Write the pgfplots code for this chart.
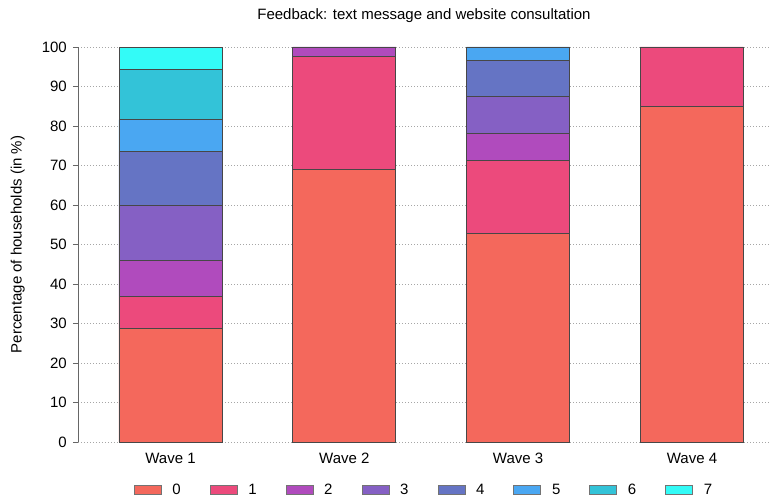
\documentclass[border=0pt]{standalone}
\usepackage{fontspec}
\setmainfont{Liberation Sans}
\usepackage{pgfplots}
\pgfplotsset{compat=1.18}
\definecolor{c0}{HTML}{F4685C}
\definecolor{c1}{HTML}{EC4A7C}
\definecolor{c2}{HTML}{B04BBD}
\definecolor{c3}{HTML}{8560C4}
\definecolor{c4}{HTML}{6574C4}
\definecolor{c5}{HTML}{4AA7F2}
\definecolor{c6}{HTML}{33C3D8}
\definecolor{c7}{HTML}{33FBF7}
\begin{document}
\fontsize{15bp}{17bp}\selectfont
\begin{tikzpicture}
\begin{axis}[
  scale only axis,
  width=692bp, height=395bp,
  ybar stacked,
  bar width=103bp,
  xmin=-0.532, xmax=3.449,
  ymin=0, ymax=100,
  xtick={0,1,2,3},
  xticklabels={Wave 1,Wave 2,Wave 3,Wave 4},
  ytick={0,10,...,100},
  axis y line*=left,
  axis x line*=bottom,
  x axis line style={draw=none},
  y axis line style={draw=black!60, line width=0.7bp},
  xtick style={draw=none},
  ytick style={draw=black!60, line width=0.7bp},
  tick align=outside,
  major tick length=5bp,
  yticklabel style={xshift=-1bp},
  xticklabel style={yshift=-1bp},
  ymajorgrids,
  grid style={dash pattern=on 0.8bp off 2.2bp, black!35, line width=0.7bp},
  /pgf/number format/assume math mode=true,
  tick label style={font=\fontsize{15bp}{17bp}\selectfont},
  title={Feedback: text message and website consultation},
  title style={at={(0.5,1)}, anchor=center, yshift=25bp, font=\fontsize{15bp}{17bp}\selectfont},
  ylabel={Percentage of households (in \%)},
  ylabel style={at={(axis description cs:-0.087,0.5)}, anchor=center, rotate=0, font=\fontsize{15bp}{17bp}\selectfont},
  every axis plot/.append style={draw=black!72, line width=0.9bp},
  legend columns=-1,
  legend style={at={(0.5,0)}, anchor=center, yshift=-48bp, draw=none,
    font=\fontsize{15bp}{17bp}\selectfont,
    /tikz/every odd column/.append style={column sep=9bp},
    /tikz/every even column/.append style={column sep=27bp}},
  legend image code/.code={\draw[#1, draw=black!55, line width=0.6bp] (0bp,-4.5bp) rectangle (27bp,4.5bp);},
]
\addplot[fill=c0] coordinates {(0,28.7) (1,69.0) (2,52.9) (3,85.0)};
\addplot[fill=c1] coordinates {(0,8.1) (1,28.7) (2,18.4) (3,15.0)};
\addplot[fill=c2] coordinates {(0,9.2) (1,2.3) (2,6.8) (3,0)};
\addplot[fill=c3] coordinates {(0,13.8) (1,0) (2,9.3) (3,0)};
\addplot[fill=c4] coordinates {(0,13.8) (1,0) (2,9.2) (3,0)};
\addplot[fill=c5] coordinates {(0,8.0) (1,0) (2,3.4) (3,0)};
\addplot[fill=c6] coordinates {(0,12.7) (1,0) (2,0) (3,0)};
\addplot[fill=c7] coordinates {(0,5.7) (1,0) (2,0) (3,0)};
\legend{0,1,2,3,4,5,6,7}
\end{axis}
\pgfresetboundingbox
\path (-78bp,-61bp) rectangle (701bp,442bp);
\end{tikzpicture}
\end{document}
